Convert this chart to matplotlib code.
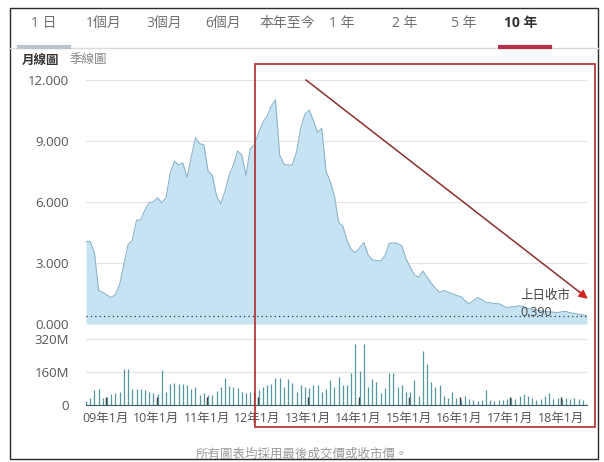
import matplotlib.pyplot as plt
from matplotlib.patches import Rectangle, FancyArrowPatch
from matplotlib.lines import Line2D

plt.rcParams['font.family'] = ['Open Sans', 'Noto Sans CJK TC']

W, H = 604, 462

# monthly closing price, 2008-09 .. 2018-08
price = [
    4.05, 4.05, 3.5, 1.65, 1.55, 1.42, 1.30, 1.45, 1.95, 2.95,
    3.9, 4.1, 5.1, 5.1, 5.6, 5.95, 6.0, 6.2, 5.95, 6.2,
    7.4, 8.0, 7.8, 7.9, 7.2, 8.2, 9.15, 8.85, 8.8, 7.5,
    7.3, 6.3, 5.9, 6.5, 7.3, 7.8, 8.5, 8.3, 7.3, 8.6,
    8.8, 9.4, 9.9, 10.2, 10.7, 11.0, 8.3, 7.85, 7.8, 7.8,
    8.45, 9.6, 10.3, 10.5, 10.0, 9.4, 9.6, 7.5, 7.0, 6.3,
    5.0, 4.8, 4.1, 3.65, 3.5, 3.75, 4.0, 3.4, 3.15, 3.12,
    3.1, 3.35, 3.95, 3.98, 3.95, 3.85, 3.2, 2.8, 2.4, 2.3,
    2.6, 2.3, 2.0, 1.75, 1.55, 1.65, 1.55, 1.5, 1.4, 1.35,
    1.15, 1.0, 1.15, 1.3, 1.2, 1.05, 1.05, 1.0, 1.0, 0.9,
    0.8, 0.85, 0.85, 0.9, 0.85, 0.75, 0.72, 0.68, 0.65, 0.62,
    0.6, 0.58, 0.56, 0.6, 0.62, 0.55, 0.52, 0.48, 0.45, 0.39,
]

# monthly volume in millions
volume = [
    21, 32, 73, 76, 32, 40, 53, 57, 65, 173,
    173, 76, 76, 76, 73, 65, 60, 53, 170, 65,
    100, 108, 102, 102, 97, 76, 89, 49, 57, 50,
    49, 70, 89, 133, 92, 86, 81, 65, 57, 65,
    65, 73, 89, 97, 102, 133, 130, 86, 125, 105,
    65, 97, 89, 81, 97, 97, 65, 76, 121, 85,
    134, 97, 97, 154, 296, 167, 296, 86, 125, 113,
    57, 81, 154, 154, 89, 97, 65, 65, 121, 44,
    264, 199, 113, 89, 97, 44, 32, 65, 32, 24,
    45, 30, 22, 20, 25, 75, 22, 20, 22, 25,
    28, 35, 30, 45, 55, 45, 35, 25, 28, 45,
    60, 30, 35, 28, 32, 30, 35, 28, 22, 15,
]

last_close = 0.390
price_ticks = [0, 3, 6, 9, 12]
volume_ticks = [0, 160, 320]
volume_tick_labels = ["0", "160M", "320M"]
year_labels = ["09年1月", "10年1月", "11年1月", "12年1月", "13年1月",
               "14年1月", "15年1月", "16年1月", "17年1月", "18年1月"]
tabs = ["1 日", "1個月", "3個月", "6個月", "本年至今", "1 年", "2 年", "5 年", "10 年"]


def box(x0, y0, x1, y1):
    return [x0 / W, 1 - y1 / H, (x1 - x0) / W, (y1 - y0) / H]


def fx(x):
    return x / W


def fy(y):
    return 1 - y / H


fig = plt.figure(figsize=(W / 100, H / 100), dpi=100)

# outer frame
fig.add_artist(Rectangle((fx(9.5), fy(459)), fx(598) - fx(9.5), fy(8) - fy(459),
                         transform=fig.transFigure, fill=False, ec='#2a2a2a', lw=1))

# tabs
tab_x = [44, 104, 164, 223, 287, 342, 405, 464, 521]
for label, tx in zip(tabs, tab_x):
    selected = label == "10 年"
    fig.text(fx(tx), fy(23), label, ha='center', va='center', size=10,
             color='#333333' if selected else '#707070',
             weight='bold' if selected else 'normal')
fig.add_artist(Line2D([fx(10), fx(598)], [fy(48), fy(48)], color='#dadada', lw=1))
fig.add_artist(Line2D([fx(19), fx(69)], [fy(47), fy(47)], color='#b8c3cb', lw=3))
fig.add_artist(Line2D([fx(500), fx(550)], [fy(47), fy(47)], color='#b3304a', lw=3))

fig.text(fx(22), fy(60), "月線圖", ha='left', va='center', size=9, color='#333333', weight='bold')
fig.text(fx(70), fy(60), "季線圖", ha='left', va='center', size=9, color='#888888')

# price chart
x = list(range(len(price)))
ax = fig.add_axes(box(86, 72, 587, 324))
ax.fill_between(x, price, 0, color='#c6e3f3', lw=0, zorder=2)
ax.plot(x, price, color='#8db5ca', lw=0.8, zorder=3)
ax.axhline(last_close, color='#333333', lw=0.9, ls=(0, (1, 2.5)), zorder=4)
ax.set_xlim(0, len(price) - 1)
ax.set_ylim(0, 12.37)
ax.set_yticks(price_ticks)
ax.set_yticklabels([f"{v:.3f}" for v in price_ticks])
ax.tick_params(axis='y', length=0, pad=12, labelsize=9.5, labelcolor='#555555')
ax.set_xticks([])
for s in ax.spines.values():
    s.set_visible(False)
ax.grid(axis='y', color='#e3e3e3', lw=0.8, zorder=1)
ax.set_axisbelow(True)

fig.text(fx(520), fy(296), "上日收市", ha='left', va='center', size=9, color='#444444')
fig.text(fx(520), fy(312), f"{last_close:.3f}", ha='left', va='center', size=9, color='#444444')

# volume chart
vax = fig.add_axes(box(86, 333, 587, 405))
vax.vlines(x, 0, volume, color='#5596a1', lw=0.9)
vax.set_xlim(0, len(price) - 1)
vax.set_ylim(0, 349)
vax.set_yticks(volume_ticks)
vax.set_yticklabels(volume_tick_labels)
vax.tick_params(axis='y', length=0, pad=12, labelsize=9.5, labelcolor='#555555')
vax.set_xticks([4.75 + 12 * k for k in range(len(year_labels))])
vax.set_xticklabels(year_labels)
vax.tick_params(axis='x', direction='in', length=6, width=1, color='#333333',
                pad=5, labelsize=9, labelcolor='#555555')
for name, s in vax.spines.items():
    s.set_visible(name == 'bottom')
vax.spines['bottom'].set_color('#3d5b62')
vax.grid(axis='y', color='#e3e3e3', lw=0.8)
vax.set_axisbelow(True)

# red annotation box and arrow
fig.add_artist(Rectangle((fx(255), fy(427)), fx(595) - fx(255), fy(64) - fy(427),
                         transform=fig.transFigure, fill=False, ec='#b02a2a', lw=1.2, zorder=5))
fig.add_artist(Line2D([fx(306), fx(582)], [fy(80), fy(294)], color='#8c2f2f', lw=1.1, zorder=5))
fig.add_artist(FancyArrowPatch((fx(576), fy(289.5)), (fx(590), fy(300.5)),
                               transform=fig.transFigure, arrowstyle='-|>', mutation_scale=13,
                               color='#d42222', lw=1, zorder=6))

fig.text(fx(302), fy(454), "所有圖表均採用最後成交價或收市價。", ha='center', va='center',
         size=9, color='#9a9a9a')

fig.savefig("out.png", dpi=100)
